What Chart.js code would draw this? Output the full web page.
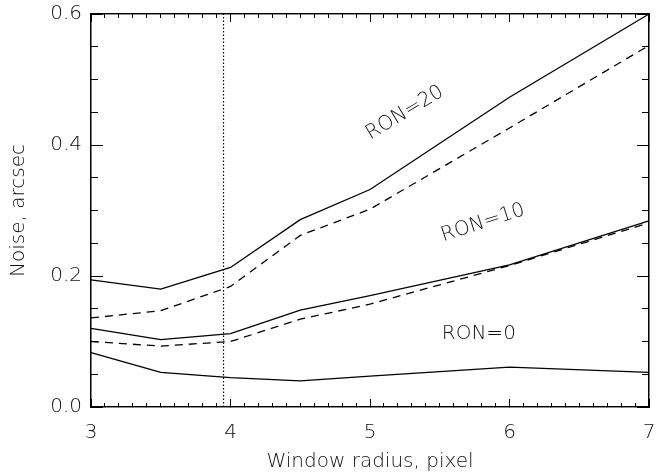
<!DOCTYPE html>
<html><head><meta charset="utf-8">
<script src="https://cdn.jsdelivr.net/npm/chart.js@4/dist/chart.umd.min.js"></script>
<style>html,body{margin:0;padding:0;background:#fff}#wrap{width:656px;height:472px}</style>
</head><body><div id="wrap"><canvas id="c" width="656" height="472"></canvas></div>
<script>
const radius = [3, 3.5, 4, 4.5, 5, 6, 7];
const ron20 = [0.194, 0.180, 0.213, 0.286, 0.332, 0.473, 0.600];
const ron20Dashed = [0.136, 0.147, 0.184, 0.262, 0.302, 0.426, 0.552];
const ron10 = [0.120, 0.103, 0.112, 0.148, 0.170, 0.217, 0.284];
const ron10Dashed = [0.100, 0.093, 0.100, 0.134, 0.157, 0.216, 0.281];
const ron0 = [0.083, 0.053, 0.045, 0.040, 0.047, 0.061, 0.053];
const markerX = 3.95;
const annotations = [
  {text: 'RON=20', x: 5.25, y: 0.449, angle: -31},
  {text: 'RON=10', x: 5.81, y: 0.281, angle: -18},
  {text: 'RON=0', x: 5.78, y: 0.112, angle: 0}
];
const xTitle = 'Window radius, pixel';
const yTitle = 'Noise, arcsec';

const FONT = "'DejaVu Sans'";
const WEIGHT = 200;
const TXT = '#111';
const pts = arr => radius.map((x, i) => ({x, y: arr[i]}));
const ds = (arr, dash) => ({data: pts(arr), borderColor: '#000', borderWidth: 1.3, borderDash: dash, pointRadius: 0, tension: 0, fill: false, clip: false});

const annot = {
  id: 'annot',
  afterDatasetsDraw(chart) {
    const {ctx, scales: {x, y}} = chart;
    ctx.save();
    ctx.fillStyle = TXT;
    ctx.font = WEIGHT + " 20px " + FONT;
    ctx.textAlign = 'center';
    ctx.textBaseline = 'middle';
    annotations.forEach(a => {
      ctx.save();
      ctx.translate(x.getPixelForValue(a.x), y.getPixelForValue(a.y));
      ctx.rotate(a.angle * Math.PI / 180);
      ctx.fillText(a.text, 0, 0);
      ctx.restore();
    });
    ctx.restore();
  }
};

const noPad = s => { s.paddingTop = 0; s.paddingBottom = 0; s.paddingLeft = 0; s.paddingRight = 0; };
const zeroH = s => { s.height = 0; noPad(s); };
const zeroW = s => { s.width = 0; noPad(s); };
const tickScale = (pos, min, max, step, len, fitFn, weight) => ({
  type: 'linear', position: pos, min, max, weight,
  ticks: {display: false, stepSize: step, maxTicksLimit: 200, autoSkip: false},
  grid: {drawOnChartArea: false, drawTicks: true, tickLength: -len, color: '#000', tickColor: '#000', tickWidth: 1},
  border: {display: true, color: '#000', width: 1.3},
  afterFit: fitFn
});
const font = {family: FONT, size: 20, weight: WEIGHT};

new Chart(document.getElementById('c'), {
  type: 'line',
  data: {datasets: [
    ds(ron20, []), ds(ron20Dashed, [8, 6]),
    ds(ron10, []), ds(ron10Dashed, [8, 6]),
    ds(ron0, []),
    {data: [{x: markerX, y: 0}, {x: markerX, y: 0.6}], borderColor: '#000', borderWidth: 1.2, borderDash: [1.5, 2], pointRadius: 0, fill: false}
  ]},
  options: {
    responsive: false, animation: false, events: [],
    layout: {padding: {top: 14, right: 7, left: 0, bottom: 0}},
    plugins: {legend: {display: false}, tooltip: {enabled: false}},
    scales: {
      x: {
        type: 'linear', position: 'bottom', min: 3, max: 7, weight: 2,
        ticks: {stepSize: 1, color: TXT, font, padding: 22, maxRotation: 0},
        grid: {drawOnChartArea: false, drawTicks: true, tickLength: -8, tickColor: '#000'},
        border: {display: true, color: '#000', width: 1.3},
        title: {display: true, text: xTitle, color: TXT, font, padding: {top: 0, bottom: -2}},
        afterFit: s => { s.height = 65; noPad(s); }
      },
      xMinor: tickScale('bottom', 3, 7, 0.1, 4, zeroH, 1),
      xTop: tickScale('top', 3, 7, 1, 8, zeroH, 1),
      xTopMinor: tickScale('top', 3, 7, 0.1, 4, zeroH, 1),
      y: {
        type: 'linear', position: 'left', min: 0, max: 0.6, weight: 2,
        ticks: {stepSize: 0.2, color: TXT, font, padding: 21, callback: v => v.toFixed(1)},
        grid: {drawOnChartArea: false, drawTicks: true, tickLength: -12, tickColor: '#000'},
        border: {display: true, color: '#000', width: 1.3},
        title: {display: true, text: yTitle, color: TXT, font, padding: {top: 7, bottom: 0}},
        afterFit: s => { s.width = 91; noPad(s); }
      },
      yMinor: tickScale('left', 0, 0.6, 0.05, 7, zeroW, 1),
      yRight: tickScale('right', 0, 0.6, 0.2, 12, zeroW, 1),
      yRightMinor: tickScale('right', 0, 0.6, 0.05, 7, zeroW, 1)
    }
  },
  plugins: [annot]
});
</script></body></html>
